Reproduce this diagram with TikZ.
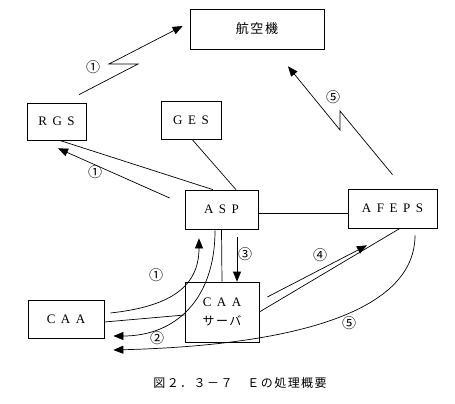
\documentclass[tikz,border=0pt]{standalone}
\usepackage{fontspec}
\setmainfont{Liberation Serif}
\newfontfamily\jp{Noto Sans CJK JP}
\newfontfamily\jpsp[LetterSpace=12]{Noto Sans CJK JP}
\usetikzlibrary{arrows.meta,calc}
\newcommand\lgap{\hspace{5.5pt}}
\begin{document}
\begin{tikzpicture}[x=1pt,y=-1pt,
  box/.style={draw,line width=0.7pt,inner sep=0pt,font=\fontsize{13}{15}\selectfont},
  conn/.style={line width=0.7pt},
  arr/.style={line width=0.7pt,-{Triangle[length=10pt,width=8pt]}},
  num/.style={font=\jp\fontsize{14}{14}\selectfont,inner sep=0pt}]
\useasboundingbox (0,0) rectangle (455,404);
% boxes
\node[box,minimum width=134pt,minimum height=40pt] (plane) at (257,29) {\jpsp\fontsize{13}{13}\selectfont 航空機};
\node[box,minimum width=59pt,minimum height=37pt] (rgs) at (56.5,121.5) {R\lgap G\lgap S};
\node[box,minimum width=60pt,minimum height=38pt] (ges) at (191,120) {G\lgap E\lgap S};
\node[box,minimum width=73pt,minimum height=39pt] (asp) at (221.5,209.5) {A\lgap S\lgap P};
\node[box,minimum width=89pt,minimum height=39pt] (afeps) at (392.5,208.5) {A\lgap F\lgap E\lgap P\lgap S};
\node[box,minimum width=76pt,minimum height=38pt] (caa) at (66,319) {C\lgap A\lgap A};
\node[box,minimum width=74pt,minimum height=60pt,align=center] (server) at (222,312)
  {C\lgap A\lgap A\\[4pt]{\jpsp\fontsize{12}{12}\selectfont サーバ}};
% caption
\node[inner sep=0pt,font=\jpsp\fontsize{12}{12}\selectfont] (cap) at (240,383) {図２．３－７　Ｅの処理概要};
% lightning RGS -> plane
\draw[arr] ($(rgs.north)+(22.5,-8)$) -- (138,64) -- (109,64) -- ($(plane.west)+(-7,-3)$);
\node[num] (n1a) at (93,67) {①};
% lightning AFEPS -> plane
\draw[arr] ($(afeps.north)+(0,-14)$) -- (340,111) -- (340,130) -- ($(plane.south)+(31,17)$);
\node[num] (n5a) at (333,97) {⑤};
% plain lines
\draw[conn] ($(rgs.south)+(3,0)$) -- ($(asp.north)+(-8.5,0)$);
\draw[conn] ($(ges.south)+(1,0)$) -- ($(asp.north)+(14.5,0)$);
\draw[conn] ($(asp.east)+(0,3.5)$) -- ($(afeps.west)+(0,4.5)$);
\draw[conn] (asp.south) -- (server.north);
\draw[conn] ($(caa.east)+(0,3)$) -- ($(server.west)+(0,3)$);
\draw[conn] ($(afeps.south)+(7.5,0)$) -- (server.east);
% ASP -> RGS
\draw[arr] ($(asp.west)+(-15,-11.5)$) -- ($(rgs.south)+(1.5,8)$);
\node[num] (n1b) at (95,172) {①};
% 3
\draw[arr] ($(asp.south)+(15.5,8)$) -- ($(server.north)+(15,0)$);
\node[num] (n3) at (245,254) {③};
% curve 1 CAA -> ASP
\draw[arr] ($(caa.east)+(6,-6)$) .. controls (165,307) and (199,290) .. ($(asp.south)+(-22.5,9)$);
\node[num] (n1c) at (156,275) {①};
% curve 2 ASP -> CAA
\draw[arr] ($(asp.south)+(-6.5,1)$) .. controls (215,300) and (175,336) .. ($(caa.east)+(9,17)$);
\node[num] (n2) at (157,338) {②};
% 4
\draw[arr] ($(server.east)+(8,-15)$) -- ($(afeps.south)+(-25.5,17)$);
\node[num] (n4) at (320,255) {④};
% curve 5
\draw[arr] ($(afeps.south)+(22.5,7)$) .. controls (415,310) and (300,345) .. ($(caa.east)+(9,31)$);
\node[num] (n5b) at (349,323) {⑤};
\end{tikzpicture}
\end{document}
